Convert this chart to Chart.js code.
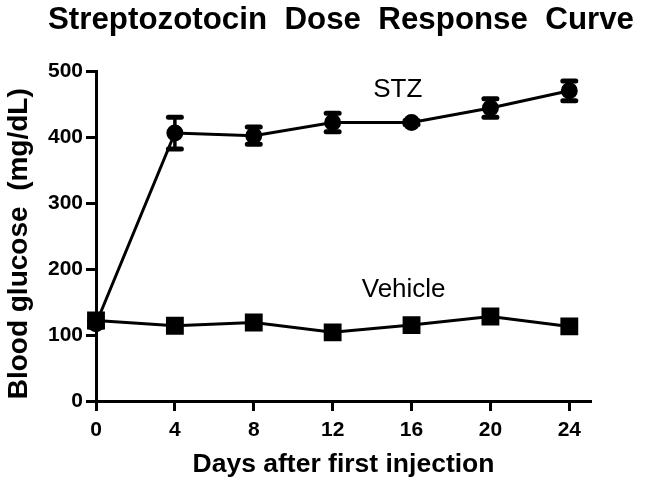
<!DOCTYPE html>
<html>
<head>
<meta charset="utf-8">
<script src="https://cdn.jsdelivr.net/npm/chart.js@4.4.1/dist/chart.umd.min.js"></script>
<style>
  html, body { margin: 0; padding: 0; background: #fff; }
  #wrap { width: 645px; height: 488px; position: relative; }
</style>
</head>
<body>
<div id="wrap"><canvas id="c" width="645" height="488"></canvas></div>
<script>
const chartTitle = 'Streptozotocin  Dose  Response  Curve';
const days = [0, 4, 8, 12, 16, 20, 24];
const stzMean = [117, 406, 402, 422, 422, 444, 470];
const stzErr = [5, 24, 13, 14, 3, 14, 15];
const vehicleMean = [122, 114, 119, 104, 115, 128, 113];
const xTicks = [0, 4, 8, 12, 16, 20, 24];
const yTicks = [0, 100, 200, 300, 400, 500];
const seriesLabels = ['STZ', 'Vehicle'];
const labelPos = [[15.3, 471], [15.6, 168]];

const FONT = '"Liberation Sans", Arial, Helvetica, sans-serif';

const errorBars = {
  id: 'errorBars',
  afterDatasetsDraw(chart) {
    const ctx = chart.ctx;
    const xs = chart.scales.x, ys = chart.scales.y;
    ctx.save();
    ctx.strokeStyle = '#000';
    ctx.lineCap = 'round';
    days.forEach((d, i) => {
      const x = xs.getPixelForValue(d);
      const yTop = ys.getPixelForValue(stzMean[i] + stzErr[i]);
      const yBot = ys.getPixelForValue(stzMean[i] - stzErr[i]);
      ctx.lineWidth = 3.5;
      ctx.beginPath();
      ctx.moveTo(x, yTop); ctx.lineTo(x, yBot);
      ctx.stroke();
      ctx.lineWidth = 5;
      ctx.beginPath();
      ctx.moveTo(x - 6.5, yTop); ctx.lineTo(x + 6.5, yTop);
      ctx.moveTo(x - 6.5, yBot); ctx.lineTo(x + 6.5, yBot);
      ctx.stroke();
    });
    ctx.restore();
  }
};

const textLayer = {
  id: 'textLayer',
  afterDraw(chart) {
    const ctx = chart.ctx;
    const xs = chart.scales.x, ys = chart.scales.y;
    ctx.save();
    ctx.fillStyle = '#000';
    ctx.textAlign = 'center';
    ctx.textBaseline = 'middle';
    // chart title
    ctx.font = 'bold 31.3px ' + FONT;
    ctx.fillText(chartTitle, 341, 20);
    // series labels
    ctx.font = '26px ' + FONT;
    seriesLabels.forEach((t, i) => {
      ctx.fillText(t, xs.getPixelForValue(labelPos[i][0]), ys.getPixelForValue(labelPos[i][1]));
    });
    ctx.restore();
  }
};

new Chart(document.getElementById('c'), {
  type: 'line',
  data: {
    datasets: [
      {
        label: 'STZ',
        data: days.map((d, i) => ({ x: d, y: stzMean[i] })),
        borderColor: '#000', backgroundColor: '#000', borderWidth: 3,
        pointStyle: 'circle', pointRadius: 7, pointHoverRadius: 7,
        tension: 0, clip: false
      },
      {
        label: 'Vehicle',
        data: days.map((d, i) => ({ x: d, y: vehicleMean[i] })),
        borderColor: '#000', backgroundColor: '#000', borderWidth: 3,
        pointStyle: 'rect', pointRadius: 10.5, pointHoverRadius: 10.5,
        tension: 0, clip: false
      }
    ]
  },
  options: {
    responsive: false,
    animation: false,
    events: [],
    layout: { padding: { left: 0, right: 54, top: 71, bottom: 0 } },
    plugins: {
      legend: { display: false },
      tooltip: { enabled: false },
      title: { display: false }
    },
    scales: {
      x: {
        type: 'linear',
        min: 0, max: 25.1,
        afterFit(s) { s.height = 87; },
        afterBuildTicks(s) { s.ticks = xTicks.map(v => ({ value: v })); },
        border: { display: true, color: '#000', width: 3 },
        grid: { drawOnChartArea: false, drawTicks: true, tickLength: 10, tickWidth: 3, tickColor: '#000' },
        ticks: { color: '#000', padding: 7, font: { family: FONT, size: 21, weight: 'bold' } },
        title: {
          display: true, text: 'Days after first injection', color: '#000',
          font: { family: FONT, size: 26.5, weight: 'bold', lineHeight: 1.2 },
          padding: { top: 0, bottom: 7 }
        }
      },
      y: {
        type: 'linear',
        min: 0, max: 500,
        afterFit(s) { s.width = 96; },
        afterBuildTicks(s) { s.ticks = yTicks.map(v => ({ value: v })); },
        border: { display: true, color: '#000', width: 3 },
        grid: { drawOnChartArea: false, drawTicks: true, tickLength: 10, tickWidth: 3, tickColor: '#000' },
        ticks: { color: '#000', padding: 3, font: { family: FONT, size: 21, weight: 'bold' } },
        title: {
          display: true, text: 'Blood glucose  (mg/dL)  ', color: '#000',
          font: { family: FONT, size: 28, weight: 'bold', lineHeight: 1.2 },
          padding: { top: 2, bottom: 0 }
        }
      }
    }
  },
  plugins: [errorBars, textLayer]
});
</script>
</body>
</html>
